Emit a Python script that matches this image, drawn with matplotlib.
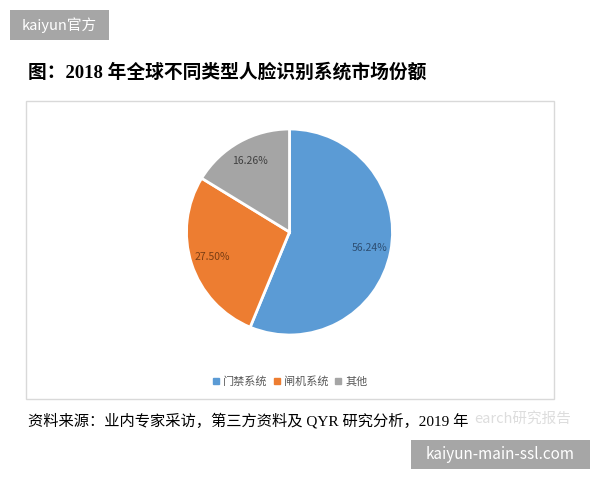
"""
Pie chart: 2018 global face-recognition system market share by type.
"""

import matplotlib
matplotlib.use("Agg")
import matplotlib.pyplot as plt
from matplotlib.lines import Line2D
from matplotlib.patches import Rectangle

plt.rcParams["font.family"] = ["Noto Sans CJK SC", "DejaVu Sans"]

CATEGORIES = ["门禁系统", "闸机系统", "其他"]
SHARES = [56.24, 27.50, 16.26]
COLORS = ["#5B9BD5", "#ED7D31", "#A5A5A5"]
LABEL_COLORS = ["#2E4F73", "#7A3E14", "#404040"]

TITLE = "图：2018 年全球不同类型人脸识别系统市场份额"
SOURCE = "资料来源：业内专家采访，第三方资料及 QYR 研究分析，2019 年"

W, H = 600, 480


def fx(px):
    return px / W


def fy(py):
    return 1 - py / H


def main() -> None:
    fig = plt.figure(figsize=(6, 4.8), dpi=100)
    fig.patch.set_facecolor("white")

    # chart frame
    fig.patches.append(Rectangle((fx(26), fy(399)), fx(554) - fx(26), fy(101) - fy(399),
                                 transform=fig.transFigure, fill=False,
                                 edgecolor="#D9D9D9", linewidth=1))

    # --- pie ---
    cx, cy, r = 289.5, 232, 103
    ax = fig.add_axes([fx(cx - r), fy(cy + r), 2 * r / W, 2 * r / H])
    wedges, _, autotexts = ax.pie(
        SHARES, colors=COLORS, startangle=90, counterclock=False,
        autopct="%.2f%%", pctdistance=0.79,
        wedgeprops=dict(edgecolor="white", linewidth=2),
        textprops=dict(fontsize=7.5),
    )
    for t, c in zip(autotexts, LABEL_COLORS):
        t.set_color(c)
    ax.set_xlim(-1, 1)
    ax.set_ylim(-1, 1)
    ax.set_aspect("equal")
    ax.axis("off")

    handles = [Line2D([], [], marker="s", linestyle="none", markersize=4,
                      markerfacecolor=c, markeredgecolor=c) for c in COLORS]
    leg = fig.legend(handles, CATEGORIES, loc="center", bbox_to_anchor=(fx(290), fy(381)),
                     ncol=3, frameon=False, fontsize=8, handlelength=0.6,
                     handletextpad=0.3, columnspacing=0.6)
    for t in leg.get_texts():
        t.set_color("#595959")

    # --- texts ---
    fig.text(fx(28), fy(72), TITLE, fontsize=13.5, fontweight="bold",
             family=["Liberation Serif", "Noto Sans CJK SC"], va="center", ha="left")
    fig.text(fx(474), fy(419), "earch研究报告", fontsize=10.5,
             color="#DDDDDD", va="center", ha="left")
    fig.text(fx(28), fy(421), SOURCE, fontsize=11,
             family=["Liberation Serif", "Noto Sans CJK SC"], va="center", ha="left")

    # site labels
    fig.patches.append(Rectangle((fx(10), fy(40)), fx(109) - fx(10), fy(10) - fy(40),
                                 transform=fig.transFigure, facecolor="#A6A6A6",
                                 edgecolor="none"))
    fig.text(fx(59.5), fy(25), "kaiyun官方", fontsize=10.5, color="white",
             va="center", ha="center")
    fig.patches.append(Rectangle((fx(411), fy(469)), fx(590) - fx(411), fy(440) - fy(469),
                                 transform=fig.transFigure, facecolor="#A6A6A6",
                                 edgecolor="none"))
    fig.text(fx(500.5), fy(454.5), "kaiyun-main-ssl.com", fontsize=11, color="white",
             va="center", ha="center")

    fig.savefig("out.png", dpi=100)


if __name__ == "__main__":
    main()
